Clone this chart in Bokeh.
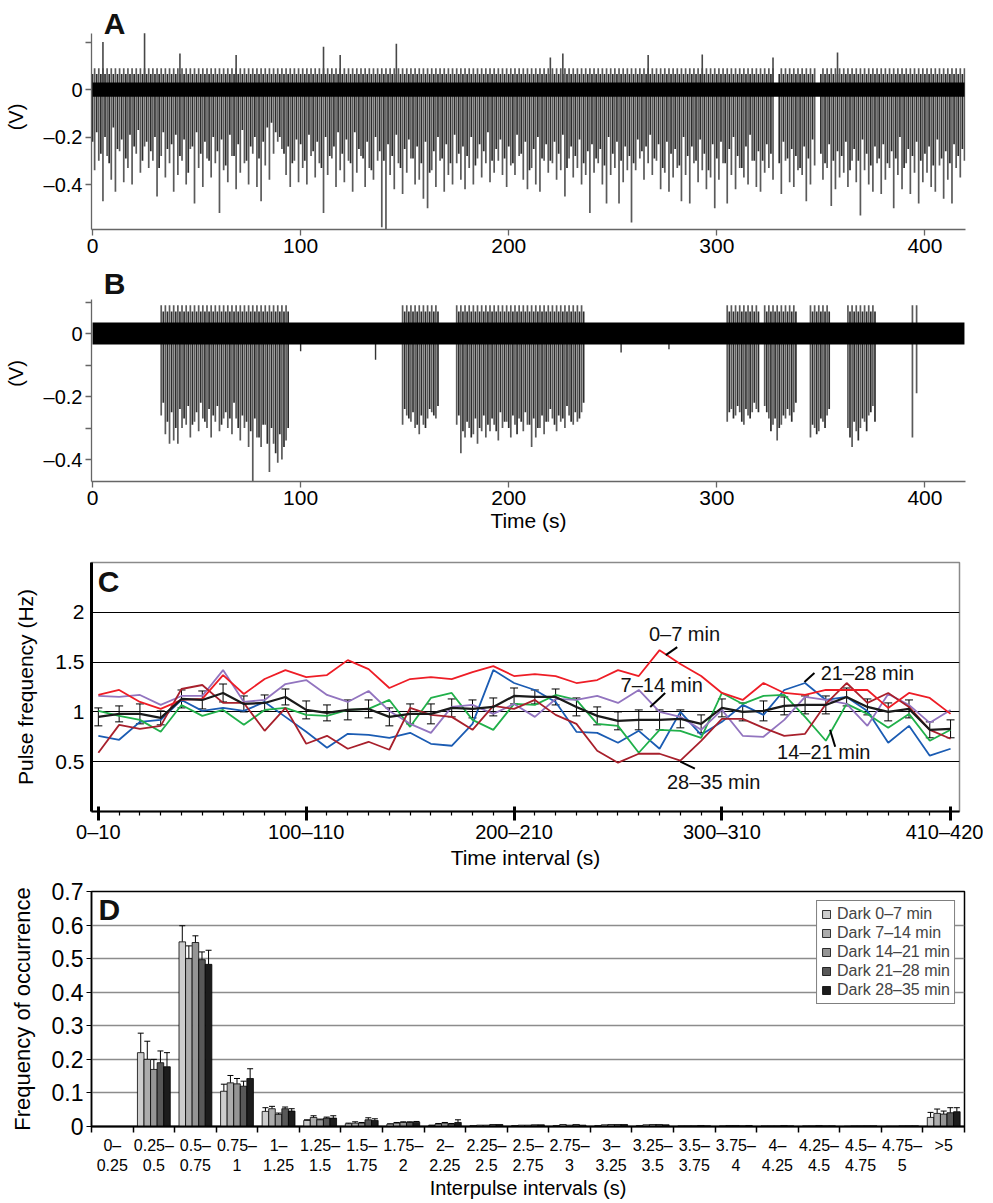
from bokeh.plotting import figure
from bokeh.layouts import column
from bokeh.models import (Range1d, FixedTicker, Label, Whisker, TeeHead,
                          ColumnDataSource)
from bokeh.embed import file_html
from bokeh.resources import INLINE

FONT = "Liberation Sans"

# ---------------- Panel A : deep spikes, one per 2-s bin at odd seconds (V) ----------------
a_depth = [
    -0.34, -0.30, -0.47, -0.28, -0.38, -0.43, -0.26, -0.39, -0.33, -0.40,
    -0.27, -0.35, -0.24, -0.33, -0.30, -0.45, -0.28, -0.37, -0.31, -0.43,
    -0.36, -0.30, -0.40, -0.25, -0.48, -0.33, -0.41, -0.29, -0.37, -0.31,
    -0.52, -0.34, -0.39, -0.28, -0.42, -0.35, -0.31, -0.40, -0.27, -0.41,
    -0.47, -0.32, -0.38, -0.27, -0.22, -0.25, -0.36, -0.41, -0.30, -0.39,
    -0.33, -0.40, -0.28, -0.37, -0.31, -0.52, -0.36, -0.29, -0.41, -0.34,
    -0.39, -0.30, -0.43, -0.35, -0.28, -0.41, -0.33, -0.38, -0.30, -0.58,
    -0.59, -0.36, -0.42, -0.31, -0.44, -0.35, -0.29, -0.40, -0.38, -0.46,
    -0.50, -0.34, -0.41, -0.30, -0.43, -0.36, -0.40, -0.31, -0.38, -0.42,
    -0.33, -0.40, -0.29, -0.37, -0.31, -0.39, -0.35, -0.30, -0.36, -0.41,
    -0.32, -0.36, -0.28, -0.38, -0.42, -0.33, -0.40, -0.43, -0.30, -0.35,
    -0.31, -0.38, -0.34, -0.45, -0.29, -0.37, -0.33, -0.40, -0.36, -0.52,
    -0.35, -0.31, -0.40, -0.48, -0.36, -0.33, -0.48, -0.39, -0.34, -0.56,
    -0.34, -0.29, -0.38, -0.31, -0.36, -0.30, -0.42, -0.35, -0.43, -0.37,
    -0.33, -0.47, -0.36, -0.48, -0.31, -0.39, -0.34, -0.42, -0.37, -0.50,
    -0.38, -0.31, -0.48, -0.36, -0.42, -0.33, -0.37, -0.40, -0.30, -0.41,
    -0.43, -0.35, -0.33, -0.38, 0.00, -0.44, -0.30, -0.39, -0.41, -0.34,
    -0.36, -0.47, -0.40, -0.32, 0.00, -0.38, -0.33, -0.49, -0.42, -0.37,
    -0.35, -0.41, -0.30, -0.39, -0.53, -0.34, -0.40, -0.43, -0.31, -0.44,
    -0.38, -0.33, -0.50, -0.36, -0.42, -0.31, -0.44, -0.35, -0.48, -0.39,
    -0.35, -0.41, -0.43, -0.32, -0.46, -0.38, -0.48, -0.33, -0.37, -0.30,
]
# shallower spikes, one per 2-s bin at even seconds (V)
a_depth2 = [
    -0.22, -0.18, -0.27, -0.20, -0.31, -0.16, -0.25, -0.21, -0.29, -0.19,
    -0.24, -0.17, -0.30, -0.22, -0.26, -0.20, -0.33, -0.18, -0.25, -0.23,
    -0.19, -0.28, -0.21, -0.35, -0.24, -0.18, -0.27, -0.22, -0.30, -0.20,
    -0.26, -0.21, -0.32, -0.19, -0.28, -0.23, -0.17, -0.30, -0.24, -0.20,
    -0.29, -0.22, -0.16, -0.14, -0.18, -0.20, -0.27, -0.24, -0.31, -0.21,
    -0.23, -0.30, -0.19, -0.26, -0.22, -0.33, -0.20, -0.28, -0.24, -0.18,
    -0.27, -0.21, -0.31, -0.18, -0.25, -0.29, -0.22, -0.34, -0.20, -0.26,
    -0.30, -0.23, -0.28, -0.19, -0.33, -0.25, -0.21, -0.29, -0.24, -0.31,
    -0.22, -0.35, -0.26, -0.20, -0.29, -0.23, -0.31, -0.19, -0.27, -0.24,
    -0.28, -0.20, -0.32, -0.23, -0.26, -0.18, -0.30, -0.25, -0.21, -0.29,
    -0.24, -0.31, -0.19, -0.27, -0.22, -0.34, -0.25, -0.20, -0.29, -0.23,
    -0.30, -0.22, -0.27, -0.19, -0.33, -0.24, -0.28, -0.21, -0.31, -0.26,
    -0.23, -0.29, -0.25, -0.32, -0.20, -0.27, -0.22, -0.30, -0.24, -0.28,
    -0.31, -0.21, -0.26, -0.24, -0.19, -0.29, -0.23, -0.33, -0.22, -0.27,
    -0.25, -0.32, -0.20, -0.28, -0.24, -0.30, -0.21, -0.27, -0.34, -0.23,
    -0.29, -0.22, -0.31, -0.25, -0.20, -0.28, -0.33, -0.24, -0.19, -0.30,
    -0.26, -0.30, -0.23, -0.27, 0.00, -0.31, -0.22, -0.29, -0.25, -0.28,
    -0.33, -0.24, -0.29, -0.21, 0.00, -0.27, -0.31, -0.23, -0.30, -0.26,
    -0.28, -0.22, -0.34, -0.25, -0.30, -0.21, -0.27, -0.32, -0.24, -0.29,
    -0.23, -0.31, -0.26, -0.29, -0.20, -0.33, -0.25, -0.28, -0.22, -0.30,
    -0.27, -0.24, -0.32, -0.21, -0.29, -0.26, -0.31, -0.23, -0.28, -0.25,
]
a_spike_top = 0.09
a_spike_top2 = 0.065
a_noise = 0.03
a_tall_t = [5, 25, 42, 69, 111, 119, 146, 220, 226, 267, 293, 327, 358]
a_tall_v = [0.20, 0.237, 0.152, 0.145, 0.18, 0.145, 0.193, 0.135, 0.152,
            0.145, 0.148, 0.135, 0.156]

# ---------------- Panel B : bursts (start time s, depths every 2 s) ----------------
b_burst_start = [33, 149, 175, 305, 323, 345, 363, 394, 396]
b_burst_depth = [
    [-0.26, -0.32, -0.35, -0.34, -0.35, -0.30, -0.29, -0.33, -0.28, -0.31,
     -0.27, -0.30, -0.33, -0.28, -0.31, -0.27, -0.30, -0.32, -0.27, -0.34,
     -0.30, -0.36, -0.47, -0.33, -0.36, -0.29, -0.44, -0.35, -0.41, -0.40, -0.34],
    [-0.29, -0.26, -0.28, -0.30, -0.32, -0.29, -0.27, -0.25, -0.27],
    [-0.29, -0.38, -0.33, -0.30, -0.32, -0.35, -0.31, -0.33, -0.31, -0.29,
     -0.34, -0.30, -0.28, -0.33, -0.29, -0.27, -0.31, -0.29, -0.36, -0.33,
     -0.30, -0.32, -0.28, -0.27, -0.31, -0.28, -0.30, -0.26, -0.29, -0.28, -0.25],
    [-0.28, -0.24, -0.26, -0.25, -0.29, -0.26, -0.25, -0.24],
    [-0.23, -0.27, -0.29, -0.34, -0.29, -0.27, -0.26, -0.25],
    [-0.33, -0.30, -0.31, -0.28, -0.26],
    [-0.30, -0.36, -0.31, -0.30, -0.28, -0.26, -0.23],
    [-0.33],
    [-0.19],
]
# in-between spikes of each burst (1 s after each of the above)
b_burst_depth2 = [
    [-0.22, -0.28, -0.25, -0.30, -0.24, -0.27, -0.23, -0.29, -0.25, -0.22,
     -0.28, -0.24, -0.26, -0.23, -0.29, -0.25, -0.27, -0.22, -0.30, -0.26,
     -0.28, -0.31, -0.27, -0.33, -0.29, -0.35, -0.30, -0.38, -0.32, -0.36, -0.30],
    [-0.24, -0.27, -0.25, -0.29, -0.26, -0.30, -0.24, -0.26, -0.23],
    [-0.26, -0.31, -0.28, -0.33, -0.27, -0.30, -0.26, -0.29, -0.27, -0.31,
     -0.25, -0.28, -0.30, -0.26, -0.32, -0.28, -0.25, -0.29, -0.27, -0.30,
     -0.26, -0.28, -0.24, -0.29, -0.26, -0.27, -0.23, -0.28, -0.25, -0.27, -0.22],
    [-0.25, -0.27, -0.23, -0.28, -0.24, -0.27, -0.22, -0.25],
    [-0.25, -0.31, -0.27, -0.30, -0.26, -0.24, -0.28, -0.22],
    [-0.29, -0.32, -0.27, -0.30, -0.24],
    [-0.33, -0.28, -0.34, -0.27, -0.31, -0.25, -0.28],
    [],
    [],
]
b_spike_top = 0.09
b_spike_top2 = 0.07
b_noise = 0.035
b_dip_t = [100, 136, 254, 277]
b_dip_v = [-0.056, -0.083, -0.06, -0.05]

# ---------------- Panel C : pulse frequency (Hz) per 10-s interval ----------------
c_major_labels = {0: "0–10", 10: "100–110", 20: "200–210", 30: "300–310", 41: "410–420"}
c_red = [1.17, 1.22, 1.10, 1.03, 1.12, 1.13, 1.37, 1.18, 1.33, 1.42, 1.35, 1.37, 1.52, 1.43,
         1.24, 1.33, 1.35, 1.33, 1.40, 1.46, 1.36, 1.38, 1.36, 1.29, 1.32, 1.42, 1.36, 1.62,
         1.48, 1.36, 1.19, 1.12, 1.29, 1.19, 1.17, 1.22, 1.22, 1.22, 1.04, 1.19, 1.14, 0.98]
c_purple = [1.16, 1.15, 1.17, 1.07, 1.16, 1.16, 1.42, 1.10, 1.12, 1.28, 1.32, 1.17, 1.10, 1.21,
            1.01, 0.88, 0.79, 1.05, 1.07, 0.98, 1.08, 0.95, 1.13, 1.12, 1.16, 1.09, 1.22, 1.00,
            0.95, 0.82, 1.02, 0.76, 0.75, 0.92, 1.15, 1.12, 1.08, 0.86, 1.18, 1.07, 0.89, 1.02]
c_green = [1.01, 0.96, 0.92, 0.80, 1.07, 0.96, 1.02, 0.87, 1.02, 1.04, 0.97, 0.96, 1.02, 1.03,
           1.12, 0.85, 1.14, 1.19, 0.92, 0.82, 1.08, 1.07, 1.17, 1.12, 0.88, 0.86, 0.59, 0.82,
           0.81, 0.74, 1.19, 1.08, 1.16, 1.17, 0.95, 0.71, 1.08, 0.98, 0.84, 0.98, 0.71, 0.82]
c_blue = [0.76, 0.72, 0.90, 0.92, 1.12, 1.01, 1.04, 1.01, 1.10, 0.95, 0.80, 0.64, 0.78, 0.77,
          0.74, 0.79, 0.68, 0.66, 0.88, 1.42, 1.29, 1.22, 1.10, 0.80, 0.79, 0.69, 0.81, 0.63,
          1.00, 0.77, 0.90, 1.07, 0.97, 1.22, 1.29, 1.12, 1.15, 1.01, 0.69, 0.86, 0.56, 0.63]
c_darkred = [0.59, 0.87, 0.83, 0.86, 1.23, 1.27, 1.09, 1.09, 0.81, 1.04, 0.68, 0.76, 0.63, 0.70,
             0.62, 1.04, 0.97, 0.95, 0.82, 1.06, 1.03, 1.12, 0.97, 0.88, 0.61, 0.49, 0.58, 0.58,
             0.51, 0.71, 0.93, 0.93, 0.84, 0.76, 0.78, 1.08, 1.29, 1.09, 1.19, 1.05, 0.82, 0.73]
c_mean = [0.95, 0.98, 0.98, 0.94, 1.13, 1.12, 1.19, 1.08, 1.09, 1.15, 1.02, 0.99, 1.02, 1.03,
          0.95, 0.98, 0.98, 1.04, 1.03, 1.05, 1.16, 1.15, 1.15, 1.05, 0.96, 0.91, 0.92, 0.92,
          0.93, 0.88, 1.04, 1.00, 1.01, 1.06, 1.07, 1.07, 1.15, 1.05, 1.00, 1.03, 0.82, 0.83]
c_err = [0.09, 0.08, 0.10, 0.07, 0.09, 0.09, 0.09, 0.08, 0.08, 0.08, 0.09, 0.08, 0.10, 0.09,
         0.09, 0.10, 0.10, 0.09, 0.09, 0.09, 0.08, 0.07, 0.08, 0.09, 0.09, 0.09, 0.10, 0.10,
         0.09, 0.09, 0.09, 0.09, 0.10, 0.09, 0.09, 0.09, 0.09, 0.08, 0.09, 0.09, 0.08, 0.09]
c_note_text = ["0–7 min", "7–14 min", "21–28 min", "14–21 min", "28–35 min"]
c_note_x = [28.2, 27.1, 37.0, 34.9, 29.6]
c_note_y = [1.78, 1.27, 1.39, 0.60, 0.30]
c_lead_x0 = [27.3, 26.55, 33.97, 35.2, 28.0]
c_lead_y0 = [1.57, 1.05, 1.30, 0.82, 0.50]
c_lead_x1 = [27.85, 27.27, 34.45, 35.45, 28.7]
c_lead_y1 = [1.65, 1.19, 1.39, 0.65, 0.43]

# ---------------- Panel D : interpulse interval histogram ----------------
d_cats = ["0–\n0.25", "0.25–\n0.5", "0.5–\n0.75", "0.75–\n1", "1–\n1.25", "1.25–\n1.5",
          "1.5–\n1.75", "1.75–\n2", "2–\n2.25", "2.25–\n2.5", "2.5–\n2.75", "2.75–\n3",
          "3–\n3.25", "3.25–\n3.5", "3.5–\n3.75", "3.75–\n4", "4–\n4.25", "4.25–\n4.5",
          "4.5–\n4.75", "4.75–\n5", ">5"]
d_names = ["Dark 0–7 min", "Dark 7–14 min", "Dark 14–21 min", "Dark 21–28 min", "Dark 28–35 min"]
d_vals = [
    [0, 0.220, 0.550, 0.105, 0.045, 0.018, 0.008, 0.007, 0.003, 0.003, 0.003, 0.003, 0.003,
     0.003, 0.002, 0.002, 0.002, 0.002, 0.001, 0.001, 0.027],
    [0, 0.200, 0.500, 0.130, 0.053, 0.027, 0.010, 0.010, 0.007, 0.004, 0.004, 0.006, 0.005,
     0.005, 0.002, 0.003, 0.002, 0.002, 0.002, 0.001, 0.039],
    [0, 0.170, 0.548, 0.127, 0.036, 0.020, 0.010, 0.012, 0.010, 0.004, 0.004, 0.004, 0.006,
     0.006, 0.002, 0.003, 0.002, 0.003, 0.002, 0.002, 0.037],
    [0, 0.190, 0.497, 0.120, 0.053, 0.025, 0.020, 0.012, 0.007, 0.006, 0.005, 0.006, 0.006,
     0.006, 0.003, 0.002, 0.003, 0.002, 0.002, 0.002, 0.041],
    [0, 0.178, 0.483, 0.143, 0.046, 0.025, 0.018, 0.013, 0.012, 0.006, 0.005, 0.004, 0.006,
     0.005, 0.002, 0.003, 0.002, 0.002, 0.002, 0.002, 0.044],
]
d_errs = [
    [0, 0.058, 0.048, 0.021, 0.011, 0.002, 0.002, 0.001, 0.001, 0, 0, 0, 0, 0, 0, 0, 0, 0, 0, 0, 0.015],
    [0, 0.054, 0.038, 0.022, 0.007, 0.005, 0.004, 0.002, 0.002, 0, 0, 0, 0, 0, 0, 0, 0, 0, 0, 0, 0.013],
    [0, 0.030, 0.020, 0.016, 0.004, 0.002, 0.002, 0.002, 0.002, 0, 0, 0, 0, 0, 0, 0, 0, 0, 0, 0, 0.009],
    [0, 0.035, 0.023, 0.015, 0.005, 0.003, 0.006, 0.002, 0.002, 0, 0, 0, 0, 0, 0, 0, 0, 0, 0, 0, 0.015],
    [0, 0.042, 0.042, 0.029, 0.007, 0.007, 0.005, 0.002, 0.008, 0, 0, 0, 0, 0, 0, 0, 0, 0, 0, 0, 0.012],
]
d_colors = ["#cdcdcd", "#acacac", "#959595", "#585858", "#1c1c1c"]


def make_fig(fw, fh, xr, yr, left, right, top, bottom):
    p = figure(frame_width=fw, frame_height=fh, x_range=xr, y_range=yr,
               output_backend="svg", toolbar_location=None, title=None,
               min_border_left=left, min_border_right=right, min_border_top=top,
               min_border_bottom=bottom)
    p.outline_line_color = None
    p.xgrid.visible = False
    p.ygrid.visible = False
    p.background_fill_color = "white"
    p.border_fill_color = "white"
    return p


def style_axis(ax, font_size, color="#666666", width=1.3):
    ax.axis_line_color = color
    ax.axis_line_width = width
    ax.major_tick_line_color = color
    ax.major_tick_line_width = width
    ax.minor_tick_line_color = color
    ax.major_label_text_font = FONT
    ax.major_label_text_font_size = font_size
    ax.major_label_text_color = "black"
    ax.axis_label_text_font = FONT
    ax.axis_label_text_font_size = "21px"
    ax.axis_label_text_font_style = "normal"
    ax.axis_label_text_color = "black"


def letter(p, txt, x, y):
    p.add_layout(Label(x=x, y=y, text=txt, text_font=FONT, text_font_size="30px",
                       text_font_style="bold", text_align="center",
                       text_baseline="middle", text_color="#111111"))


def trace_axes(p):
    for ax in (p.xaxis[0], p.yaxis[0]):
        style_axis(ax, "21px")
        ax.major_tick_out = 6
        ax.major_tick_in = 0
        ax.minor_tick_out = 6
        ax.minor_tick_in = 0
        ax.minor_tick_line_width = 1.3
    p.xaxis.ticker = FixedTicker(ticks=[0, 100, 200, 300, 400])
    p.xaxis.major_label_standoff = 3
    p.yaxis.major_label_text_font_size = "20px"
    p.yaxis.major_label_standoff = 3
    p.yaxis.axis_label = "(V)"
    p.yaxis.axis_label_text_font_size = "20px"
    p.yaxis.axis_label_standoff = 14


# ---------- A ----------
pA = make_fig(874, 225, Range1d(-0.5, 419.5), Range1d(-0.589, 0.358), 91, 18, 4, 36)
ta = [1 + 2 * k for k in range(len(a_depth))]
sa = [(t, d) for t, d in zip(ta, a_depth) if d != 0]
pA.segment(x0=[s[0] for s in sa], y0=a_spike_top, x1=[s[0] for s in sa],
           y1=[s[1] for s in sa], line_color="#5a5a5a", line_width=1.7)
ta2 = [2 * k for k in range(len(a_depth2))]
sa2 = [(t, d) for t, d in zip(ta2, a_depth2) if d != 0]
pA.segment(x0=[s[0] for s in sa2], y0=a_spike_top2, x1=[s[0] for s in sa2],
           y1=[s[1] for s in sa2], line_color="#2c2c2c", line_width=1.7)
pA.segment(x0=a_tall_t, y0=0, x1=a_tall_t, y1=a_tall_v, line_color="#474747", line_width=1.6)
pA.quad(left=0, right=419, bottom=-a_noise, top=a_noise, fill_color="black", line_color=None)
trace_axes(pA)
pA.yaxis.ticker = FixedTicker(ticks=[0.2, 0, -0.2, -0.4])
pA.yaxis.major_label_overrides = {0.2: "", 0: "0", -0.2: "–0.2", -0.4: "–0.4"}
pA.yaxis.bounds = (-0.589, 0.236)
letter(pA, "A", 10.6, 0.276)

# ---------- B ----------
pB = make_fig(874, 216, Range1d(-0.5, 419.5), Range1d(-0.4698, 0.2159), 91, 18, 0, 64)
bt, bd, bt2, bd2 = [], [], [], []
for st, dl, dl2 in zip(b_burst_start, b_burst_depth, b_burst_depth2):
    for k, d in enumerate(dl):
        bt.append(st + 2 * k)
        bd.append(d)
    for k, d in enumerate(dl2):
        bt2.append(st + 1 + 2 * k)
        bd2.append(d)
pB.segment(x0=bt, y0=b_spike_top, x1=bt, y1=bd, line_color="#5a5a5a", line_width=1.7)
pB.segment(x0=bt2, y0=b_spike_top2, x1=bt2, y1=bd2, line_color="#2c2c2c", line_width=1.7)
pB.segment(x0=b_dip_t, y0=0, x1=b_dip_t, y1=b_dip_v, line_color="#333333", line_width=1.4)
pB.quad(left=0, right=419, bottom=-b_noise, top=b_noise, fill_color="black", line_color=None)
trace_axes(pB)
pB.xaxis.axis_label = "Time (s)"
pB.xaxis.axis_label_standoff = 1
pB.yaxis.ticker = FixedTicker(ticks=[0, -0.2, -0.4], minor_ticks=[0.1, -0.1, -0.3])
pB.yaxis.major_label_overrides = {0: "0", -0.2: "–0.2", -0.4: "–0.4"}
pB.yaxis.bounds = (-0.4698, 0.108)
letter(pB, "B", 10.6, 0.159)

# ---------- C ----------
pC = make_fig(868, 249, Range1d(-0.33, 41.43), Range1d(0, 2.5), 90, 25, 17, 61)
pC.outline_line_color = "#8a8a8a"
pC.outline_line_width = 1.5
pC.ygrid.visible = True
pC.ygrid.ticker = FixedTicker(ticks=[0.5, 1, 1.5, 2])
pC.ygrid.grid_line_color = "black"
pC.ygrid.grid_line_width = 1
idx = list(range(len(c_mean)))
for ser, col in [(c_blue, "#1b5cb3"), (c_green, "#20b04a"), (c_purple, "#9274bf"),
                 (c_darkred, "#a8202c"), (c_red, "#ee1d26")]:
    pC.line(idx, ser, line_color=col, line_width=1.8)
pC.line(idx, c_mean, line_color="#1a1a1a", line_width=2.2)
esrc = ColumnDataSource(dict(x=idx, lo=[m - e for m, e in zip(c_mean, c_err)],
                             up=[m + e for m, e in zip(c_mean, c_err)]))
pC.add_layout(Whisker(source=esrc, base="x", lower="lo", upper="up", line_color="black",
                      line_width=1,
                      upper_head=TeeHead(size=8, line_color="black", line_width=1),
                      lower_head=TeeHead(size=8, line_color="black", line_width=1)))
pC.segment(x0=c_lead_x0, y0=c_lead_y0, x1=c_lead_x1, y1=c_lead_y1, line_color="black",
           line_width=2)
for txt, x, y in zip(c_note_text, c_note_x, c_note_y):
    pC.add_layout(Label(x=x, y=y, text=txt, text_font=FONT, text_font_size="20px",
                        text_align="center", text_baseline="middle", text_color="#111111"))
style_axis(pC.xaxis[0], "20px", color="black", width=2)
pC.xaxis.ticker = FixedTicker(ticks=[0, 10, 20, 30, 41], minor_ticks=idx)
pC.xaxis.major_label_overrides = c_major_labels
pC.xaxis.major_tick_line_width = 3
pC.xaxis.major_tick_in = 5
pC.xaxis.major_tick_out = 9
pC.xaxis.minor_tick_in = 0
pC.xaxis.minor_tick_out = 4
pC.xaxis.minor_tick_line_width = 1.2
pC.xaxis.major_label_standoff = 0
pC.xaxis.axis_label = "Time interval (s)"
pC.xaxis.axis_label_standoff = 0
style_axis(pC.yaxis[0], "21px", color="black", width=3)
pC.yaxis.ticker = FixedTicker(ticks=[0.5, 1, 1.5, 2])
pC.yaxis.major_label_overrides = {0.5: "0.5", 1: "1", 1.5: "1.5", 2: "2"}
pC.yaxis.major_tick_out = 0
pC.yaxis.major_tick_in = 0
pC.yaxis.major_label_standoff = 7
pC.yaxis.axis_label = "Pulse frequency (Hz)"
pC.yaxis.axis_label_standoff = 15
letter(pC, "C", 0.49, 2.31)

# ---------- D ----------
pD = make_fig(873, 235, Range1d(0, 21), Range1d(0, 0.7), 89, 21, 19, 72)
pD.outline_line_color = "black"
pD.outline_line_width = 1.5
pD.ygrid.visible = True
yt = [0.1, 0.2, 0.3, 0.4, 0.5, 0.6]
pD.ygrid.ticker = FixedTicker(ticks=yt)
pD.ygrid.grid_line_color = "#8c8c8c"
pD.ygrid.grid_line_width = 1.4
bw = 0.158
for s in range(5):
    xs = [i + 0.5 + (s - 2) * bw for i in range(len(d_cats))]
    pD.vbar(x=xs, top=d_vals[s], width=bw, fill_color=d_colors[s], line_color="black",
            line_width=0.8, legend_label=d_names[s])
    keep = [i for i in range(len(d_cats)) if d_errs[s][i] > 0]
    wsrc = ColumnDataSource(dict(x=[xs[i] for i in keep], lo=[d_vals[s][i] for i in keep],
                                 up=[d_vals[s][i] + d_errs[s][i] for i in keep]))
    pD.add_layout(Whisker(source=wsrc, base="x", lower="lo", upper="up", line_color="black",
                          line_width=1,
                          upper_head=TeeHead(size=6, line_color="black", line_width=1),
                          lower_head=None))
style_axis(pD.xaxis[0], "16px", color="black", width=2)
pD.xaxis.ticker = FixedTicker(ticks=[i + 0.5 for i in range(len(d_cats))],
                              minor_ticks=list(range(len(d_cats) + 1)))
pD.xaxis.major_label_overrides = {i + 0.5: c for i, c in enumerate(d_cats)}
pD.xaxis.major_tick_out = 0
pD.xaxis.major_tick_in = 0
pD.xaxis.minor_tick_out = 6
pD.xaxis.minor_tick_in = 0
pD.xaxis.minor_tick_line_color = "black"
pD.xaxis.minor_tick_line_width = 1.5
pD.xaxis.major_label_standoff = 4
pD.xaxis.axis_label = "Interpulse intervals (s)"
pD.xaxis.axis_label_text_font_size = "20px"
pD.xaxis.axis_label_standoff = 0
style_axis(pD.yaxis[0], "23px", color="black", width=1.5)
pD.yaxis.ticker = FixedTicker(ticks=[0, 0.1, 0.2, 0.3, 0.4, 0.5, 0.6, 0.7])
pD.yaxis.major_label_overrides = {0: "0", 0.1: "0.1", 0.2: "0.2", 0.3: "0.3", 0.4: "0.4",
                                  0.5: "0.5", 0.6: "0.6", 0.7: "0.7"}
pD.yaxis.major_tick_out = 5
pD.yaxis.major_tick_in = 0
pD.yaxis.major_tick_line_width = 1
pD.yaxis.major_label_standoff = 3
pD.yaxis.axis_label = "Frequency of occurrence"
pD.yaxis.axis_label_text_font_size = "22px"
pD.yaxis.axis_label_standoff = 14
lg = pD.legend[0]
lg.location = "top_right"
lg.margin = 9
lg.padding = 4
lg.spacing = 1
lg.label_text_font = FONT
lg.label_text_font_size = "16px"
lg.label_height = 16
lg.glyph_height = 10
lg.glyph_width = 10
lg.label_standoff = 6
lg.border_line_color = "black"
lg.border_line_width = 1.5
lg.background_fill_alpha = 1
letter(pD, "D", 0.43, 0.646)

layout = column(pA, pB, pC, pD, spacing=0)
open("out.html", "w").write(file_html(layout, INLINE))
